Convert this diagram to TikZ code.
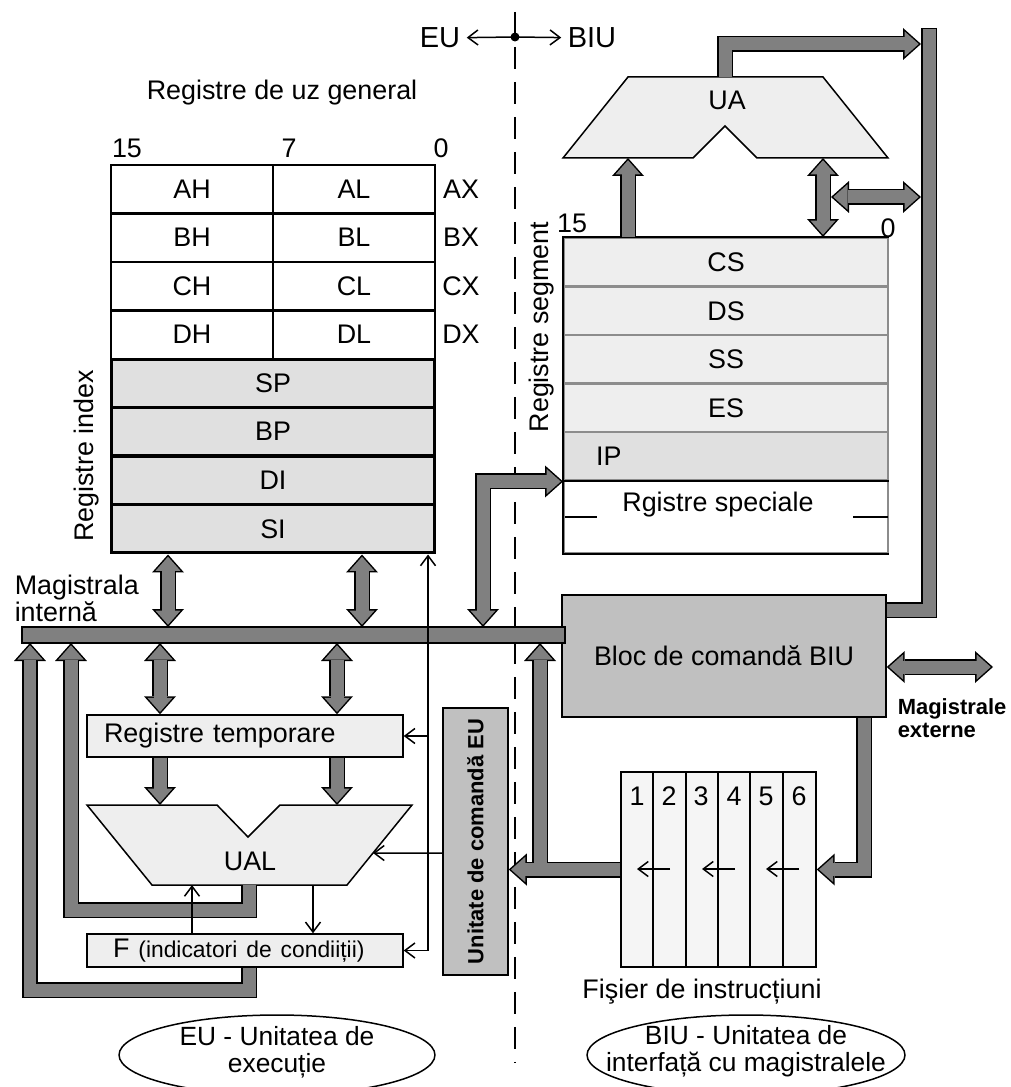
\documentclass[tikz,border=0pt]{standalone}
\usepackage{fontspec}
\setmainfont{Liberation Sans}
\usetikzlibrary{arrows.meta,calc}
\definecolor{BusGray}{HTML}{808080}
\definecolor{IdxFill}{HTML}{E0E0E0}
\definecolor{SegFill}{HTML}{EEEEEE}
\definecolor{SegLine}{HTML}{8C8C8C}
\definecolor{CtlFill}{HTML}{C0C0C0}
\definecolor{QueueFill}{HTML}{F5F5F5}
\newcommand{\regfont}{\fontsize{15.3}{17}\selectfont}
\newcommand{\smallregfont}{\fontsize{13}{15}\selectfont}
\newcommand{\toplblfont}{\fontsize{16.5}{18}\selectfont}
\newcommand{\boldlblfont}{\fontsize{12.5}{13}\selectfont\bfseries}
\newcommand{\ellfont}{\fontsize{15}{15.5}\selectfont}
% wide grey arrow: black outline first, grey body on top
\newcommand{\busarrow}[2]{%
  \draw[fatout,#1] #2;
  \draw[fatin,#1] #2;}

\begin{document}
\begin{tikzpicture}[x=0.02cm, y=-0.02cm, line width=0.03cm, font=\regfont,
    gen/.style={draw, line width=0.04cm, fill=white, minimum width=3.24cm,
                minimum height=0.97cm, inner sep=0pt},
    idx/.style={draw, line width=0.06cm, fill=IdxFill, minimum width=6.48cm,
                minimum height=0.97cm, inner sep=0pt},
    seg/.style={draw=SegLine, line width=0.04cm, fill=SegFill, minimum width=6.48cm,
                minimum height=0.97cm, inner sep=0pt},
    ctl/.style={draw, fill=CtlFill, inner sep=0pt},
    lite/.style={draw, fill=SegFill, inner ysep=0pt, align=left},
    alu/.style={draw, fill=SegFill},
    fatout/.style={draw=black, line width=0.32cm,
                   >={Triangle[length=0.36cm, width=0.64cm, line width=0pt]}},
    fatin/.style={draw=BusGray, line width=0.26cm,
                  >={Triangle[length=0.285cm, width=0.506cm, line width=0pt, sep=0.045cm]}},
    sig/.style={-{Straight Barb[length=0.2cm, width=0.3cm]}, line width=0.03cm},
    divider/.style={dash pattern=on 0.44cm off 0.26cm, line width=0.03cm}]
  \fill[white] (0,0) rectangle (1010,1087);
  \useasboundingbox (0,0) rectangle (1010,1087);
  \clip (0,0) rectangle (1010,1087);

  % EU | BIU split
  \draw[divider] (515,12) -- (515,1062);
  \coordinate (split) at (515,37);
  \fill (split) circle[radius=0.09cm];
  \node[font=\toplblfont] (eulbl)  at (440,38) {EU};
  \node[font=\toplblfont] (biulbl) at (592,38) {BIU};
  \draw[sig] (split) -- (eulbl);
  \draw[sig] (split) -- (biulbl);

  % general purpose + index registers
  \node (genlbl) at (282,93) {Registre de uz general};
  \node (b15) at (127,148) {15};
  \node (b7)  at (289,148) {7};
  \node (b0)  at (441,148) {0};
  \node[gen] (ah) at (192,189.25) {AH};  \node[gen] (al) at (354,189.25) {AL};
  \node[gen] (bh) at (192,237.75) {BH};  \node[gen] (bl) at (354,237.75) {BL};
  \node[gen] (ch) at (192,286.25) {CH};  \node[gen] (cl) at (354,286.25) {CL};
  \node[gen] (dh) at (192,334.75) {DH};  \node[gen] (dl) at (354,334.75) {DL};
  \node (ax) at (461,189.25) {AX};
  \node (bx) at (461,237.75) {BX};
  \node (cx) at (461,286.25) {CX};
  \node (dx) at (461,334.75) {DX};
  \node[idx] (sp) at (273,383.25) {SP};
  \node[idx] (bp) at (273,431.75) {BP};
  \node[idx] (di) at (273,480.25) {DI};
  \node[idx] (si) at (273,528.75) {SI};
  \node[rotate=90] (idxlbl) at (87,456) {Registre index};

  % segment registers
  \node (s15) at (572,223) {15};
  \node (s0)  at (888,228) {0};
  \node[seg] (cs) at (726,262.25) {CS};
  \node[seg] (ds) at (726,310.75) {DS};
  \node[seg] (ss) at (726,359.25) {SS};
  \node[seg] (es) at (726,407.75) {ES};
  \node[seg, fill=IdxFill, text width=5.2cm, inner xsep=0.64cm, align=left]
    (ip) at (726,456.25) {IP};
  \node[seg, fill=white, minimum height=1.45cm] (spec) at (726,516.75) {};
  \node (spectxt) at (718,505) {Rgistre speciale};
  \draw (565,517) -- (597,517) (853,517) -- (888,517);
  \draw[line width=0.04cm] (cs.north east) -- (cs.north west) -- (spec.south west) -- (spec.south east);
  \draw[line width=0.04cm] (ip.south west) -- (ip.south east);
  \node[rotate=90] (seglbl) at (542,327) {Registre segment};

  % address adder
  \coordinate (ua-bl) at (563,158);
  \coordinate (ua-tl) at (628,77);
  \coordinate (ua-tr) at (823,77);
  \coordinate (ua-br) at (888,158);
  \draw[alu] (ua-bl) -- (ua-tl) -- (ua-tr) -- (ua-br) -- (757,158) -- (725,126) -- (693,158) -- cycle;
  \node (ua) at (727,100) {UA};

  % control blocks
  \node[ctl, minimum width=6.48cm, minimum height=2.44cm] (biublk) at (724,656) {Bloc de comandă BIU};
  \node[ctl, minimum width=1.3cm, minimum height=5.34cm] (eucmd) at (475.5,841.5) {};
  \node[rotate=90, font=\boldlblfont] (eucmdtxt) at (eucmd) {Unitate de comandă EU};

  % temporary registers, ALU, flags
  \node[lite, text width=5.64cm, inner xsep=0.34cm, minimum height=0.84cm] (temp) at (245,736) {Registre temporare};
  \coordinate (ual-tl) at (87,805);
  \coordinate (ual-tr) at (412,805);
  \coordinate (ual-br) at (347,885);
  \coordinate (ual-bl) at (152,885);
  \draw[alu] (ual-tl) -- (217,805) -- (248,837) -- (280,805) -- (ual-tr) -- (ual-br) -- (ual-bl) -- cycle;
  \node (ual) at (250,861) {UAL};
  \node[lite, text width=5.28cm, inner xsep=0.52cm, minimum height=0.66cm] (f) at (245,950.5)
    {F {\smallregfont (indicatori de condiiții)}};

  % instruction queue
  \node[draw, fill=QueueFill, minimum width=3.9cm, minimum height=3.9cm, inner sep=0pt] (queue) at (718.5,869.5) {};
  \draw (653,772) -- (653,967) (686,772) -- (686,967) (718,772) -- (718,967)
        (750,772) -- (750,967) (783,772) -- (783,967);
  \node (q1) at (637,796) {1};
  \node (q2) at (669,796) {2};
  \node (q3) at (701,796) {3};
  \node (q4) at (734,796) {4};
  \node (q5) at (766,796) {5};
  \node (q6) at (799,796) {6};
  \draw[sig] (670,869) -- (637,869);
  \draw[sig] (735,869) -- (702,869);
  \draw[sig] (799,869) -- (766,869);
  \node (qlbl) at (702,992) {Fişier de instrucțiuni};

  % wide arrows
  \busarrow{<->}{(168,0 |- si.south) -- (168,627)}
  \busarrow{<->}{(362,0 |- si.south) -- (362,627)}
  \busarrow{<->}{(483,627) |- (ip.south west)}
  \busarrow{<->}{(160,643) -- (160,0 |- temp.north)}
  \busarrow{<->}{(337,643) -- (337,0 |- temp.north)}
  \busarrow{->}{(160,0 |- temp.south) -- (160,0 |- ual-tl)}
  \busarrow{->}{(337,0 |- temp.south) -- (337,0 |- ual-tl)}
  \busarrow{->}{(249,0 |- ual-bl) -- (249,910) -| (71,643)}
  \busarrow{->}{(249,0 |- f.south) -- (249,990) -| (30,643)}
  \draw[fatout,->] (540,870) -- (540,643);
  \draw[fatout,->] (queue.west) -- (eucmd.east |- queue.west);
  \draw[fatin,->] (queue.west) -- (eucmd.east |- queue.west);
  \draw[fatin,->] (540,870) -- (540,643);
  \busarrow{->}{(864,0 |- biublk.south) |- (queue.east)}
  \coordinate (ext) at (993,667);
  \busarrow{<->}{(biublk.east |- ext) -- (ext)}
  \coordinate (bartop) at (929,28);
  \draw[fatout] (bartop) |- (biublk.east |- 0,610);
  \draw[fatin, shorten <=0.03cm] (bartop) |- (biublk.east |- 0,610);
  \coordinate (barin) at (921,44);
  \busarrow{->}{(725,0 |- ua-tl) |- (barin)}
  \busarrow{->}{(628,0 |- cs.north) -- (628,0 |- ua-bl)}
  \busarrow{<->}{(823,0 |- ua-bl) -- (823,0 |- cs.north)}
  \busarrow{<->}{(831,197) -- (921,197)}

  % internal bus
  \node[draw, fill=BusGray, minimum width=10.86cm, minimum height=0.32cm, inner sep=0pt] (bus) at (293.5,635) {};
  \node[anchor=west, align=left, inner sep=0pt, font=\fontsize{15.3}{14.2}\selectfont] (buslbl) at (14,598) {Magistrala\\internă};
  \node[anchor=west, align=left, inner sep=0pt, font=\boldlblfont] (extlbl) at (897,718) {Magistrale\\externe};

  % control signals
  \draw[sig] (eucmd.west |- 0,853) -- ($(ual-tr)!0.6!(ual-br)$);
  \draw[sig] (313,0 |- ual-bl) -- (313,0 |- f.north);
  \draw[sig] (192,0 |- f.north) -- (192,0 |- ual-bl);
  \draw[sig] (428,0 |- f.east) -- (f.east);
  \draw[sig] (428,0 |- f.east) -- (428,0 |- si.south);
  \draw[sig] (428,0 |- temp.east) -- (temp.east);

  % unit names
  \node[align=center, font=\ellfont] (euname) at (277,1052) {EU - Unitatea de\\execuție};
  \draw (277,1055) ellipse[x radius=3.16cm, y radius=0.8cm];
  \node[align=center, font=\ellfont] (biuname) at (746,1051) {BIU - Unitatea de\\interfață cu magistralele};
  \draw (746,1055) ellipse[x radius=3.18cm, y radius=0.8cm];
\end{tikzpicture}
\end{document}
